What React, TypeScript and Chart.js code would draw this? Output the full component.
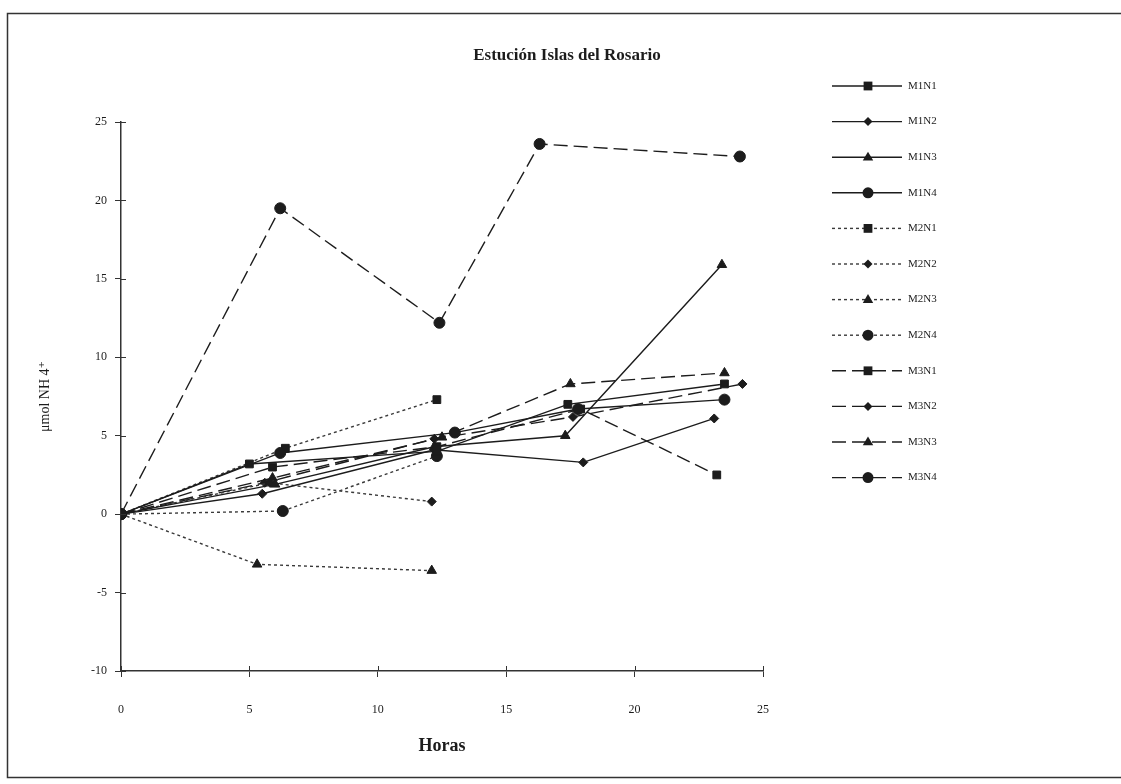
import React, { useEffect, useRef } from "react";
import { Chart, registerables } from "chart.js";

Chart.register(...registerables);

const TITLE = "Estución Islas del Rosario";
const X_TITLE = "Horas";
const Y_TITLE = "μmol NH 4⁺";
const X_TICKS = [0, 5, 10, 15, 20, 25];
const Y_TICKS = [-10, -5, 0, 5, 10, 15, 20, 25];

const LABELS = ["M1N1", "M1N2", "M1N3", "M1N4", "M2N1", "M2N2", "M2N3", "M2N4", "M3N1", "M3N2", "M3N3", "M3N4"];

const M1N1_h = [0, 5.0, 12.3, 17.4, 23.5];
const M1N1_v = [0, 3.2, 4.0, 7.0, 8.3];
const M1N2_h = [0, 5.5, 12.2, 18.0, 23.1];
const M1N2_v = [0, 1.3, 4.1, 3.3, 6.1];
const M1N3_h = [0, 6.0, 12.2, 17.3, 23.4];
const M1N3_v = [0, 1.9, 4.3, 5.0, 15.9];
const M1N4_h = [0, 6.2, 13.0, 17.8, 23.5];
const M1N4_v = [0, 3.9, 5.2, 6.7, 7.3];
const M2N1_h = [0, 6.4, 12.3];
const M2N1_v = [0, 4.2, 7.3];
const M2N2_h = [0, 5.8, 12.1];
const M2N2_v = [0, 2.0, 0.8];
const M2N3_h = [0, 5.3, 12.1];
const M2N3_v = [0, -3.2, -3.6];
const M2N4_h = [0, 6.3, 12.3];
const M2N4_v = [0, 0.2, 3.7];
const M3N1_h = [0, 5.9, 12.3, 17.9, 23.2];
const M3N1_v = [0, 3.0, 4.3, 6.7, 2.5];
const M3N2_h = [0, 5.6, 12.2, 17.6, 24.2];
const M3N2_v = [0, 2.0, 4.8, 6.2, 8.3];
const M3N3_h = [0, 5.9, 12.5, 17.5, 23.5];
const M3N3_v = [0, 2.3, 4.9, 8.3, 9.0];
const M3N4_h = [0, 6.2, 12.4, 16.3, 24.1];
const M3N4_v = [0, 19.5, 12.2, 23.6, 22.8];

const HOURS = [M1N1_h, M1N2_h, M1N3_h, M1N4_h, M2N1_h, M2N2_h, M2N3_h, M2N4_h, M3N1_h, M3N2_h, M3N3_h, M3N4_h];
const VALUES = [M1N1_v, M1N2_v, M1N3_v, M1N4_v, M2N1_v, M2N2_v, M2N3_v, M2N4_v, M3N1_v, M3N2_v, M3N3_v, M3N4_v];

const SHAPES = ["rect", "rectRot", "triangle", "circle"];
const SIZES = [5.5, 4.5, 5.5, 5.5];
const DASHES: number[][] = [[], [3, 3], [14, 6]];
const INK = "#1c1c1c";
const SERIF = '"Liberation Serif", "DejaVu Serif", serif';

export default function App() {
  const ref = useRef<HTMLCanvasElement | null>(null);

  useEffect(() => {
    if (!ref.current) return;
    const datasets = LABELS.map((label, i) => {
      const group = Math.floor(i / 4);
      const kind = i % 4;
      return {
        label,
        data: HOURS[i].map((h, j) => ({ x: h, y: VALUES[i][j] })),
        borderColor: group === 1 ? "#3a3a3a" : INK,
        backgroundColor: INK,
        borderWidth: 1.4,
        borderDash: DASHES[group],
        pointStyle: SHAPES[kind],
        pointRadius: SIZES[kind],
        pointBackgroundColor: INK,
        pointBorderColor: INK,
        pointBorderWidth: 1,
        showLine: true,
        fill: false,
        tension: 0,
      };
    });

    const decor = {
      id: "decor",
      afterDraw(chart: any) {
        const ctx = chart.ctx;
        ctx.save();
        // frame
        ctx.strokeStyle = "#333";
        ctx.lineWidth = 1.5;
        ctx.strokeRect(7.5, 13.5, 1125, 764);
        // title
        ctx.fillStyle = INK;
        ctx.font = `bold 17px ${SERIF}`;
        ctx.textAlign = "center";
        ctx.textBaseline = "middle";
        ctx.fillText(TITLE, 567, 56);
        // inner tick marks
        const xs = chart.scales.x;
        const ys = chart.scales.y;
        ctx.strokeStyle = "#333";
        ctx.lineWidth = 1;
        Y_TICKS.forEach((v) => {
          const y = Math.round(ys.getPixelForValue(v)) + 0.5;
          ctx.beginPath();
          ctx.moveTo(xs.left, y);
          ctx.lineTo(xs.left + 5, y);
          ctx.stroke();
        });
        X_TICKS.forEach((v) => {
          const x = Math.round(xs.getPixelForValue(v)) + 0.5;
          ctx.beginPath();
          ctx.moveTo(x, ys.bottom);
          ctx.lineTo(x, ys.bottom - 5);
          ctx.stroke();
        });
        // legend
        const x0 = 832, x1 = 902, mx = 868, tx = 908;
        chart.data.datasets.forEach((ds: any, i: number) => {
          const y = 86 + i * 35.6;
          ctx.setLineDash(ds.borderDash || []);
          ctx.strokeStyle = ds.borderColor;
          ctx.lineWidth = 1.4;
          ctx.beginPath();
          ctx.moveTo(x0, y);
          ctx.lineTo(x1, y);
          ctx.stroke();
          ctx.setLineDash([]);
          ctx.fillStyle = INK;
          ctx.strokeStyle = INK;
          const r = ds.pointRadius;
          const shape = ds.pointStyle;
          ctx.beginPath();
          if (shape === "rect") {
            ctx.rect(mx - r * 0.8, y - r * 0.8, r * 1.6, r * 1.6);
          } else if (shape === "rectRot") {
            ctx.moveTo(mx, y - r);
            ctx.lineTo(mx + r, y);
            ctx.lineTo(mx, y + r);
            ctx.lineTo(mx - r, y);
            ctx.closePath();
          } else if (shape === "triangle") {
            ctx.moveTo(mx, y - r);
            ctx.lineTo(mx + r * 0.95, y + r * 0.6);
            ctx.lineTo(mx - r * 0.95, y + r * 0.6);
            ctx.closePath();
          } else {
            ctx.arc(mx, y, r, 0, Math.PI * 2);
          }
          ctx.fill();
          ctx.fillStyle = INK;
          ctx.font = `11px ${SERIF}`;
          ctx.textAlign = "left";
          ctx.textBaseline = "middle";
          ctx.fillText(ds.label, tx, y);
        });
        ctx.restore();
      },
    };

    const chart = new Chart(ref.current, {
      type: "scatter",
      data: { datasets } as any,
      options: {
        animation: false,
        responsive: false,
        devicePixelRatio: 1,
        layout: { padding: { left: 33, top: 122, right: 358, bottom: 23 } },
        plugins: {
          legend: { display: false },
          title: { display: false },
          tooltip: { enabled: false },
        },
        scales: {
          x: {
            type: "linear",
            min: 0,
            max: 25,
            afterFit: (s: any) => { s.height = 90; },
            afterBuildTicks: (s: any) => { s.ticks = X_TICKS.map((v) => ({ value: v })); },
            ticks: { color: INK, font: { family: SERIF, size: 12 }, padding: 26 },
            grid: { drawOnChartArea: false, drawTicks: true, tickLength: 6, color: "#333" },
            border: { display: true, color: "#333", width: 1.5 },
            title: { display: true, text: X_TITLE, color: INK, font: { family: SERIF, size: 18, weight: "bold" }, padding: 4 },
          },
          y: {
            type: "linear",
            min: -10,
            max: 25,
            afterFit: (s: any) => { s.width = 88; },
            afterBuildTicks: (s: any) => { s.ticks = Y_TICKS.map((v) => ({ value: v })); },
            ticks: { color: INK, font: { family: SERIF, size: 12 }, padding: 8 },
            grid: { drawOnChartArea: false, drawTicks: true, tickLength: 6, color: "#333" },
            border: { display: true, color: "#333", width: 1.5 },
            title: { display: true, text: Y_TITLE, color: INK, font: { family: SERIF, size: 14 }, padding: 4 },
          },
        },
      } as any,
      plugins: [decor],
    });
    return () => chart.destroy();
  }, []);

  return (
    <div style={{ position: "absolute", left: 0, top: 0, width: 1121, height: 784, background: "#fff" }}>
      <canvas ref={ref} width={1121} height={784} style={{ display: "block" }} />
    </div>
  );
}
